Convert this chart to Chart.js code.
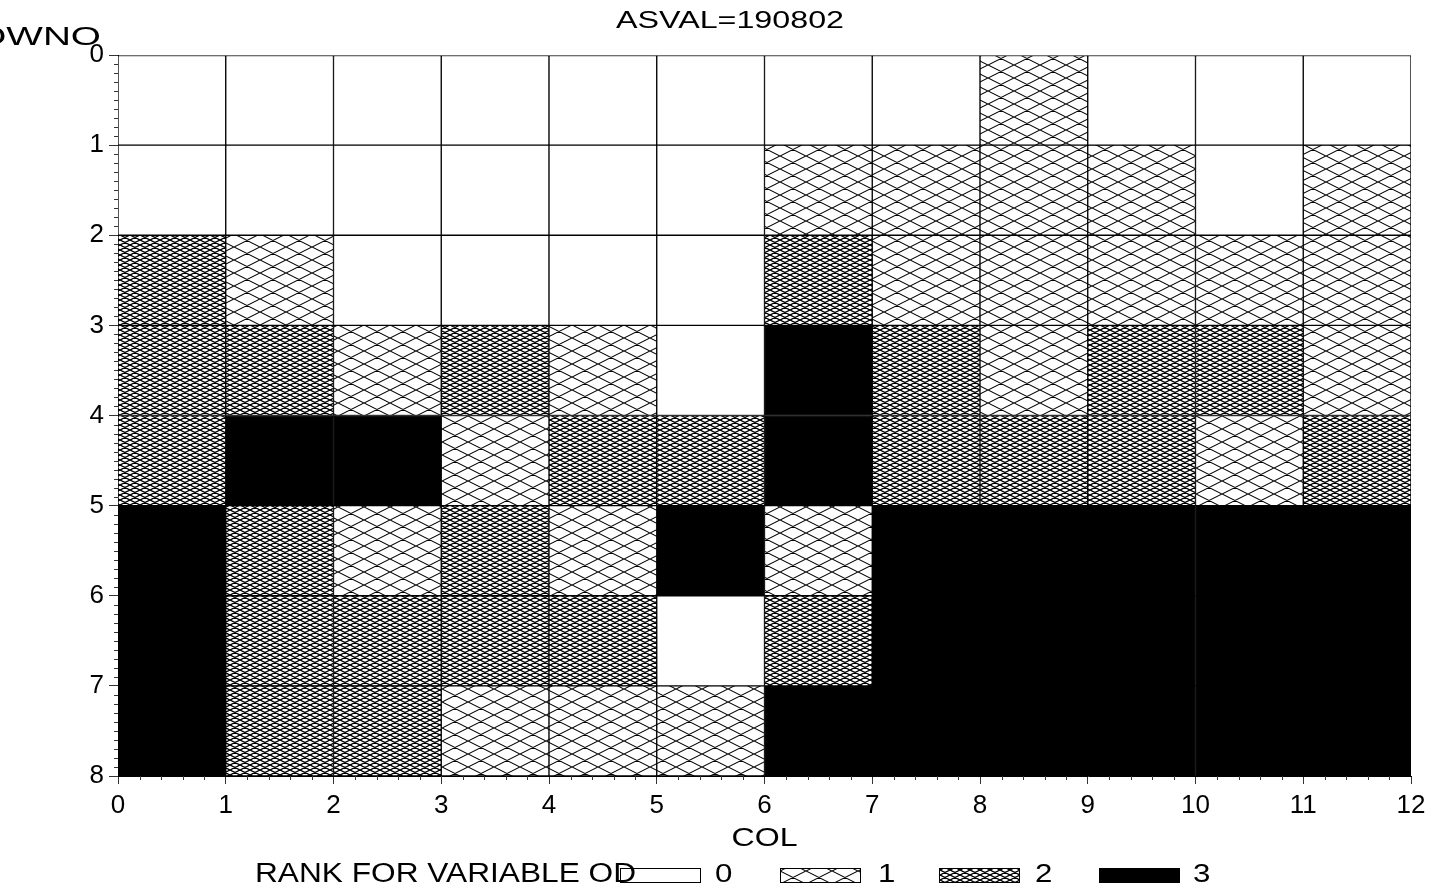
<!DOCTYPE html>
<html>
<head>
<meta charset="utf-8">
<script src="https://cdn.jsdelivr.net/npm/chart.js@4.4.1/dist/chart.umd.min.js"></script>
<style>
html,body{margin:0;padding:0;background:#fff;}
#wrap{width:1437px;height:890px;position:relative;}
</style>
</head>
<body>
<div id="wrap"><canvas id="c" width="1437" height="890"></canvas></div>
<script>
// ---- data ----
const chartTitle = 'ASVAL=190802';
const xTitle = 'COL';
const yTitle = 'ROWNO';
const legendTitle = 'RANK FOR VARIABLE OD';
const rankLabels = ['0', '1', '2', '3'];
const colCount = 12;
const rowCount = 8;
const row0 = [0,0,0,0,0,0,0,0,1,0,0,0];
const row1 = [0,0,0,0,0,0,1,1,1,1,0,1];
const row2 = [2,1,0,0,0,0,2,1,1,1,1,1];
const row3 = [2,2,1,2,1,0,3,2,1,2,2,1];
const row4 = [2,3,3,1,2,2,3,2,2,2,1,2];
const row5 = [3,2,1,2,1,3,1,3,3,3,3,3];
const row6 = [3,2,2,2,2,0,2,3,3,3,3,3];
const row7 = [3,2,2,1,1,1,3,3,3,3,3,3];
const rows = [row0, row1, row2, row3, row4, row5, row6, row7];

// ---- patterns ----
const canvas = document.getElementById('c');
const ctx = canvas.getContext('2d');
function hatch(W, H, lw) {
  const t = document.createElement('canvas');
  t.width = W; t.height = H;
  const g = t.getContext('2d');
  g.fillStyle = '#fff';
  g.fillRect(0, 0, W, H);
  g.strokeStyle = '#000';
  g.lineWidth = lw;
  g.beginPath();
  for (let k = -1; k <= 1; k++) {
    g.moveTo(-W, -H + k * H); g.lineTo(2 * W, 2 * H + k * H);
    g.moveTo(-W, 2 * H + k * H); g.lineTo(2 * W, -H + k * H);
  }
  g.stroke();
  return ctx.createPattern(t, 'repeat');
}
const rankFills = ['#ffffff', hatch(26, 13, 1.1), hatch(10, 5, 1.3), '#000000'];

// ---- datasets built from the rows ----
const datasets = rankLabels.map((lab, k) => {
  const pts = [];
  rows.forEach((row, r) => row.forEach((v, c) => {
    if (v === k) pts.push({ x: c + 0.5, y: [r, r + 1] });
  }));
  return {
    label: lab,
    data: pts,
    backgroundColor: rankFills[k],
    borderColor: '#000',
    borderWidth: 1,
    borderSkipped: false,
    grouped: false,
    barPercentage: 1,
    categoryPercentage: 1
  };
});

function stretchText(c, text, x, y, font, opts) {
  c.save();
  c.font = font;
  c.fillStyle = '#000';
  c.textBaseline = 'alphabetic';
  const w = c.measureText(text).width;
  const sx = opts.width ? opts.width / w : (opts.sx || 1);
  const ww = w * sx;
  let left = x;
  if (opts.align === 'center') left = x - ww / 2;
  else if (opts.align === 'right') left = x - ww;
  c.translate(left, y);
  c.scale(sx, 1);
  c.textAlign = 'left';
  c.fillText(text, 0, 0);
  c.restore();
}

const FONT = '"Liberation Sans", Arial, sans-serif';
const extras = {
  id: 'extras',
  afterDraw(chart) {
    const c = chart.ctx;
    const xs = chart.scales.x, ys = chart.scales.y;
    // minor ticks
    c.save();
    c.strokeStyle = '#333';
    c.lineWidth = 1;
    c.beginPath();
    for (let i = 0; i <= colCount * 5; i++) {
      if (i % 5 === 0) continue;
      const px = Math.round(xs.getPixelForValue(i / 5)) + 0.5;
      c.moveTo(px, ys.bottom); c.lineTo(px, ys.bottom + 4);
    }
    for (let i = 0; i <= rowCount * 10; i++) {
      if (i % 10 === 0) continue;
      const py = Math.round(ys.getPixelForValue(i / 10)) + 0.5;
      c.moveTo(xs.left - 4, py); c.lineTo(xs.left, py);
    }
    c.stroke();
    c.restore();
    // texts
    stretchText(c, chartTitle, 730, 28, '24px ' + FONT, { width: 228, align: 'center' });
    stretchText(c, yTitle, 101, 45, '25px ' + FONT, { sx: 1.55, align: 'right' });
    stretchText(c, xTitle, (xs.left + xs.right) / 2, 846, '25px ' + FONT, { width: 66, align: 'center' });
    // legend boxes
    const boxX = [620, 780, 939, 1099];
    const labX = [715, 878, 1035, 1193];
    chart.data.datasets.forEach((ds, k) => {
      c.save();
      c.fillStyle = ds.backgroundColor;
      c.fillRect(boxX[k], 868, 80, 14);
      c.strokeStyle = '#000';
      c.lineWidth = 1;
      c.strokeRect(boxX[k] + 0.5, 868.5, 80, 14);
      c.restore();
      stretchText(c, ds.label, labX[k], 882, '25px ' + FONT, { sx: 1.25, align: 'left' });
    });
    stretchText(c, legendTitle, 255, 882, '27px ' + FONT, { width: 381, align: 'left' });
  }
};

new Chart(canvas, {
  type: 'bar',
  data: { datasets },
  options: {
    responsive: false,
    animation: false,
    devicePixelRatio: 1,
    layout: { padding: { left: 78, top: 55, right: 26, bottom: 74 } },
    plugins: { legend: { display: false }, tooltip: { enabled: false }, title: { display: false } },
    scales: {
      x: {
        type: 'linear', min: 0, max: colCount, offset: false,
        ticks: { stepSize: 1, color: '#000', padding: 6, font: { family: FONT, size: 26 }, maxRotation: 0 },
        grid: { drawOnChartArea: false, drawTicks: true, tickLength: 8, tickColor: '#333', offset: false },
        border: { display: true, color: '#000', width: 1 },
        afterFit(s) { s.height = 40; }
      },
      y: {
        type: 'linear', min: 0, max: rowCount, reverse: true,
        ticks: { stepSize: 1, color: '#000', padding: 5, font: { family: FONT, size: 26 } },
        grid: { drawOnChartArea: false, drawTicks: true, tickLength: 9, tickColor: '#333' },
        border: { display: true, color: '#000', width: 1 },
        afterFit(s) { s.width = 40; }
      }
    }
  },
  plugins: [extras]
});
</script>
</body>
</html>
